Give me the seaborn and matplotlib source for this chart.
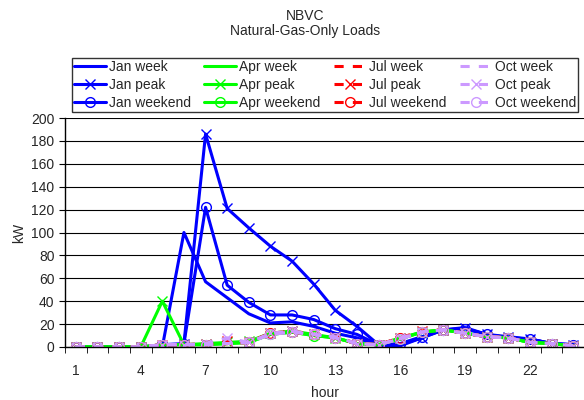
import seaborn as sns
import matplotlib.pyplot as plt
import numpy as np

# Hourly natural-gas loads (kW)
hours = list(range(1, 25))
jan_week = [0, 0, 0, 0, 0, 100, 57, 43, 29, 21, 22, 18, 12, 8, 1, 2, 8, 15, 16, 11, 8, 7, 3, 2]
jan_peak = [0, 0, 0, 0, 0, 3, 186, 121, 104, 88, 75, 55, 32, 18, 2, 1, 8, 15, 17, 11, 9, 7, 3, 2]
jan_weekend = [0, 0, 0, 0, 2, 3, 122, 54, 39, 28, 28, 24, 16, 11, 2, 3, 9, 15, 16, 11, 8, 7, 3, 2]
apr_week = [0, 0, 0, 0, 2, 2, 2, 3, 4, 11, 13, 10, 8, 3, 2, 7, 13, 15, 12, 9, 8, 4, 3, 1]
apr_peak = [0, 0, 0, 0, 40, 2, 3, 4, 5, 12, 14, 11, 8, 3, 2, 8, 13, 15, 12, 9, 8, 4, 3, 1]
apr_weekend = [0, 0, 0, 0, 2, 2, 2, 3, 4, 11, 13, 10, 8, 3, 2, 7, 13, 15, 12, 9, 8, 4, 3, 1]
jul_week = [0, 0, 0, 0, 2, 2, 2, 3, 4, 12, 13, 11, 8, 3, 2, 8, 13, 15, 12, 9, 8, 4, 3, 1]
jul_peak = [0, 0, 0, 0, 2, 2, 3, 5, 4, 12, 14, 11, 9, 3, 2, 8, 14, 15, 12, 9, 8, 4, 3, 1]
jul_weekend = [0, 0, 0, 0, 2, 2, 2, 3, 4, 12, 13, 11, 8, 3, 2, 8, 13, 15, 12, 9, 8, 4, 3, 1]
oct_week = [0, 0, 0, 0, 2, 2, 2, 3, 4, 11, 13, 11, 8, 3, 2, 7, 13, 15, 12, 9, 8, 4, 3, 1]
oct_peak = [0, 0, 0, 0, 2, 2, 3, 8, 4, 12, 14, 11, 9, 3, 2, 8, 13, 15, 12, 9, 8, 4, 3, 1]
oct_weekend = [0, 0, 0, 0, 2, 2, 2, 3, 4, 11, 13, 11, 8, 3, 2, 7, 13, 15, 12, 9, 8, 4, 3, 1]

x_labels = [1, 4, 7, 10, 13, 16, 19, 22]

series = [
    ("Jan week", jan_week, "#0000FF", "-", None),
    ("Jan peak", jan_peak, "#0000FF", "-", "x"),
    ("Jan weekend", jan_weekend, "#0000FF", "-", "o"),
    ("Apr week", apr_week, "#00FF00", "-", None),
    ("Apr peak", apr_peak, "#00FF00", "-", "x"),
    ("Apr weekend", apr_weekend, "#00FF00", "-", "o"),
    ("Jul week", jul_week, "#FF0000", "--", None),
    ("Jul peak", jul_peak, "#FF0000", "--", "x"),
    ("Jul weekend", jul_weekend, "#FF0000", "--", "o"),
    ("Oct week", oct_week, "#CC99FF", "--", None),
    ("Oct peak", oct_peak, "#CC99FF", "--", "x"),
    ("Oct weekend", oct_weekend, "#CC99FF", "--", "o"),
]

sns.set_style("white")
plt.rcParams['font.family'] = ['Liberation Sans', 'DejaVu Sans']

fig = plt.figure(figsize=(5.84, 4.0), dpi=100)
ax = fig.add_axes([65 / 584, 53 / 400, 519 / 584, 229 / 400])

for name, vals, color, ls, mk in series:
    sns.lineplot(x=hours, y=vals, ax=ax, color=color, linestyle=ls, linewidth=2.2,
                 marker=mk, markersize=7, markerfacecolor="none", markeredgecolor=color,
                 markeredgewidth=1.0, label=name)

for line, (name, vals, color, ls, mk) in zip(ax.get_lines(), series):
    if ls == "--":
        line.set_dashes([3, 3])

ax.set_ylim(0, 200)
ax.set_xlim(0.5, 24.42)
ax.set_yticks(np.arange(0, 201, 20))
ax.set_xticks(x_labels)
ax.set_xticks(np.arange(0.5, 25, 1), minor=True)
ax.tick_params(axis="x", which="major", length=0, labelsize=10, pad=12)
ax.tick_params(axis="x", which="minor", length=4, direction="out", color="black", bottom=True)
ax.tick_params(axis="y", length=4, direction="out", color="black", left=True, labelsize=10)
ax.yaxis.grid(True, color="black", linewidth=0.8)
ax.set_axisbelow(True)
for side in ["top", "right"]:
    ax.spines[side].set_visible(False)
for side in ["left", "bottom"]:
    ax.spines[side].set_color("black")
    ax.spines[side].set_linewidth(1.0)

ax.set_xlabel("hour", fontsize=10, labelpad=6)
ax.set_ylabel("kW", fontsize=10, labelpad=4)

handles, labels = ax.get_legend_handles_labels()
ax.get_legend().remove()
leg = fig.legend(handles, labels, ncol=4, loc="upper left",
                 bbox_to_anchor=(72 / 584, 1 - 113 / 400, 506 / 584, 55 / 400),
                 mode="expand", fontsize=10, frameon=True, fancybox=False,
                 handlelength=2.3, handletextpad=0.2, borderpad=0.15,
                 labelspacing=0.28, columnspacing=0.3, borderaxespad=0)
leg.get_frame().set_edgecolor("black")
leg.get_frame().set_linewidth(1.0)

fig.text(305 / 584, 1 - 16 / 400, "NBVC", ha="center", va="center", fontsize=10)
fig.text(305 / 584, 1 - 31 / 400, "Natural-Gas-Only Loads", ha="center", va="center", fontsize=10)

plt.savefig("out.png", dpi=100)
